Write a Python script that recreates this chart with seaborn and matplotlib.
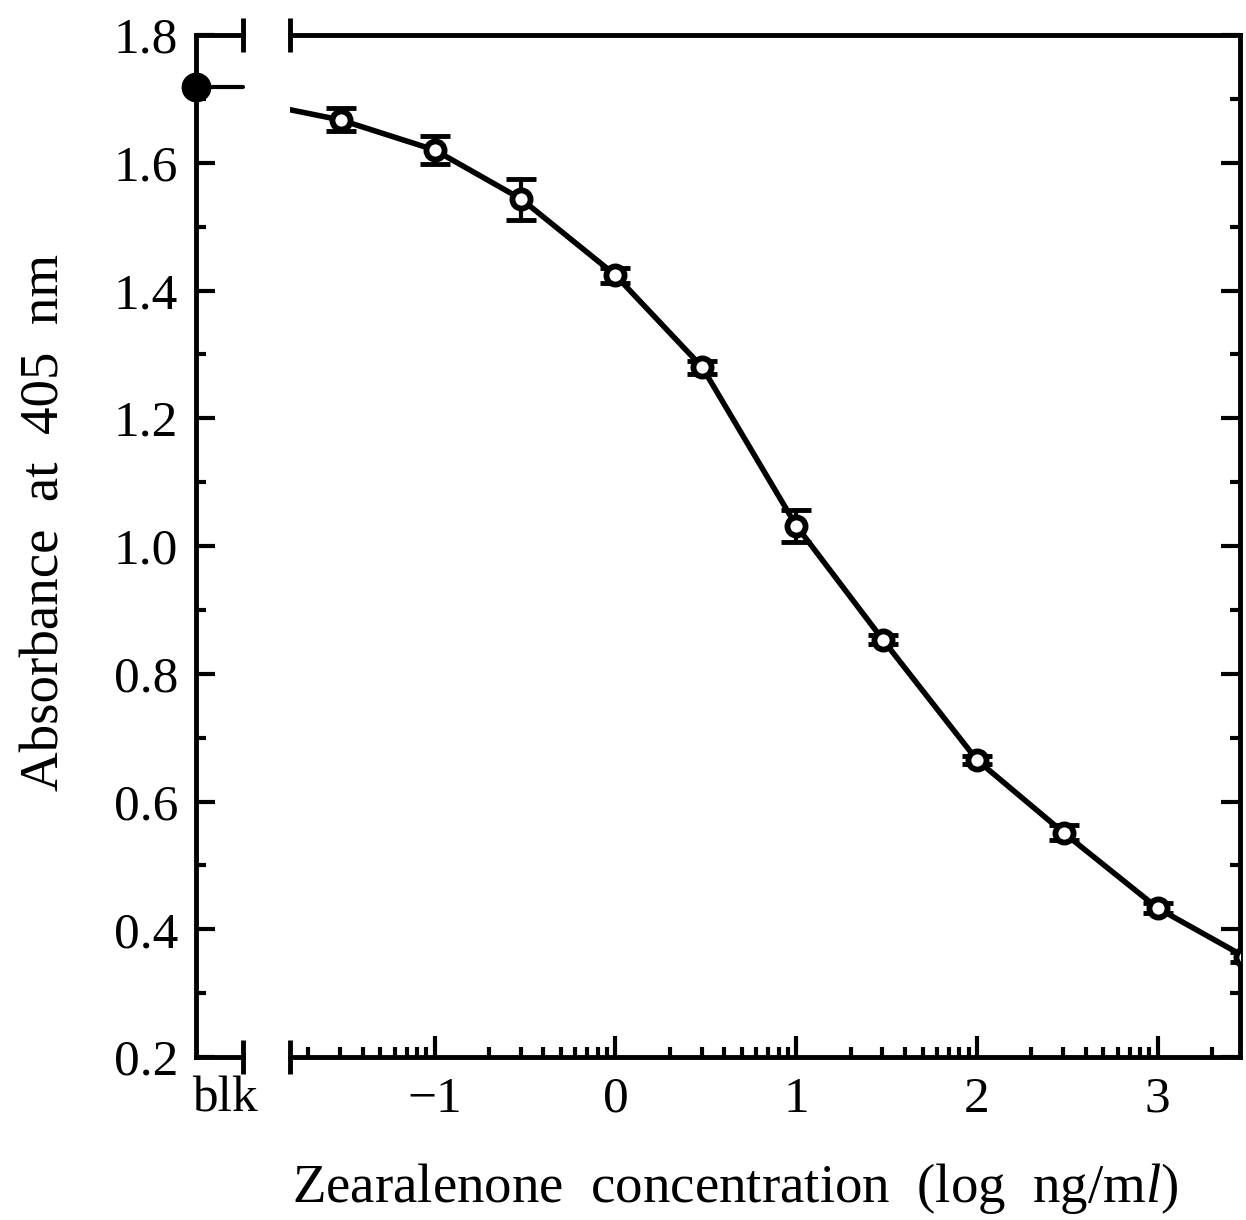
import numpy as np
import pandas as pd
import matplotlib
matplotlib.use("Agg")
import matplotlib.pyplot as plt
import seaborn as sns
from matplotlib.ticker import FixedLocator, FixedFormatter, MultipleLocator, NullFormatter

# ---------------- data ----------------
blank_label = ["blk"]
blank_x = [0.0]
blank_absorbance = [1.719]

log_conc = [-1.52, -1.0, -0.52, 0.0, 0.48, 1.0, 1.48, 2.0, 2.48, 3.0, 3.48]
absorbance = [1.667, 1.620, 1.543, 1.424, 1.280, 1.032, 0.853, 0.665, 0.551, 0.433, 0.357]
abs_err = [0.018, 0.022, 0.032, 0.012, 0.010, 0.025, 0.007, 0.006, 0.012, 0.008, 0.008]

curve_start_x = [-1.80]
curve_start_y = [1.683]

x_tick_values = [-1, 0, 1, 2, 3]
x_tick_labels = ["\u22121", "0", "1", "2", "3"]
y_tick_values = [0.2, 0.4, 0.6, 0.8, 1.0, 1.2, 1.4, 1.6, 1.8]
y_tick_labels = ["0.2", "0.4", "0.6", "0.8", "1.0", "1.2", "1.4", "1.6", "1.8"]

y_label = "Absorbance  at  405  nm"
x_label = r"Zearalenone  concentration  (log  ng/m$\mathit{l}$)"

# ---------------- style ----------------
sns.set_theme(style="ticks")
plt.rcParams.update({
    "font.family": ["Liberation Serif", "DejaVu Serif"],
    "mathtext.fontset": "custom",
    "mathtext.rm": "Liberation Serif",
    "mathtext.it": "Liberation Serif:italic",
    "axes.linewidth": 3.5,
    "axes.edgecolor": "black",
    "text.color": "black",
    "xtick.color": "black",
    "ytick.color": "black",
})

W, H = 1246, 1220
fig = plt.figure(figsize=(W / 100, H / 100), dpi=100)
bottom_px, top_px = 1057, 35
ax_h = (bottom_px - top_px) / H
ax_b = 1 - bottom_px / H
ax1 = fig.add_axes([196 / W, ax_b, 47 / W, ax_h])
ax2 = fig.add_axes([290 / W, ax_b, 950 / W, ax_h])

TICK_FS = 37
LABEL_FS = 39.5
ylim = (0.2, 1.8)

# ---------------- blank panel ----------------
ax1.set_xlim(0, 1)
ax1.set_ylim(*ylim)
ax1.spines["right"].set_visible(False)
sns.lineplot(x=[blank_x[0], 1.0], y=[blank_absorbance[0]] * 2, ax=ax1,
             color="black", lw=3, clip_on=False)
sns.scatterplot(x=blank_x, y=blank_absorbance, ax=ax1, marker="o", s=380,
                color="black", edgecolor="black", linewidth=2, clip_on=False, zorder=6)

ax1.yaxis.set_major_locator(FixedLocator(y_tick_values))
ax1.yaxis.set_major_formatter(FixedFormatter(y_tick_labels))
ax1.yaxis.set_minor_locator(MultipleLocator(0.1))
ax1.tick_params(axis="y", which="major", direction="in", length=14, width=3,
                labelsize=TICK_FS, pad=13, left=True, right=False)
ax1.tick_params(axis="y", which="minor", direction="in", length=7, width=3,
                left=True, right=False)

ax1.xaxis.set_major_locator(FixedLocator([1.0]))
ax1.xaxis.set_major_formatter(NullFormatter())
ax1.xaxis.set_minor_locator(FixedLocator([0.62]))
ax1.xaxis.set_minor_formatter(FixedFormatter(blank_label))
ax1.tick_params(axis="x", which="major", direction="inout", length=24, width=3.5,
                top=True, bottom=True, labelbottom=False)
ax1.tick_params(axis="x", which="minor", length=0, top=False, bottom=True,
                labelbottom=True, labelsize=TICK_FS, pad=14)

# ---------------- main panel ----------------
ax2.set_xlim(-1.80, 3.455)
ax2.set_ylim(*ylim)
ax2.spines["left"].set_visible(False)

sns.lineplot(x=curve_start_x + log_conc, y=curve_start_y + absorbance, ax=ax2,
             color="black", lw=4, sort=False, estimator=None, zorder=3)
ax2.errorbar(log_conc, absorbance, yerr=abs_err, fmt="none", ecolor="black",
             elinewidth=3, capsize=11, capthick=3.5, zorder=4)
sns.scatterplot(x=log_conc, y=absorbance, ax=ax2, marker="o", s=170,
                color="white", edgecolor="black", linewidth=4.2, zorder=5)

ax2.xaxis.set_major_locator(FixedLocator(x_tick_values))
ax2.xaxis.set_major_formatter(FixedFormatter(x_tick_labels))
minor_pos = [n + np.log10(k) for n in range(-2, 4) for k in range(2, 10)]
ax2.xaxis.set_minor_locator(FixedLocator(minor_pos))
ax2.tick_params(axis="x", which="major", direction="in", length=15, width=3,
                labelsize=TICK_FS, pad=14, top=False, bottom=True)
ax2.tick_params(axis="x", which="minor", direction="in", length=7, width=3,
                top=False, bottom=True)

ax2.yaxis.set_major_locator(FixedLocator(y_tick_values))
ax2.yaxis.set_minor_locator(MultipleLocator(0.1))
ax2.tick_params(axis="y", which="major", direction="in", length=14, width=3,
                left=False, right=True, labelleft=False, labelright=False)
ax2.tick_params(axis="y", which="minor", direction="in", length=7, width=3,
                left=False, right=True)

# break marks at the left edge of the main panel
for loc in ("top", "bottom"):
    sec = ax2.secondary_xaxis(loc)
    sec.set_xticks([-1.80])
    sec.xaxis.set_major_formatter(NullFormatter())
    sec.tick_params(direction="inout", length=24, width=3.5, color="black")
    for sp in sec.spines.values():
        sp.set_visible(False)

for ax in (ax1, ax2):
    if ax.get_legend() is not None:
        ax.get_legend().remove()
    ax.set_xlabel("")
    ax.set_ylabel("")

fig.text(45 / W, 1 - 522 / H, y_label, rotation=90, ha="center", va="center",
         fontsize=LABEL_FS)
fig.text(735 / W, 1 - 1188 / H, x_label, ha="center", va="center",
         fontsize=LABEL_FS)

fig.savefig("out.png", dpi=100)
